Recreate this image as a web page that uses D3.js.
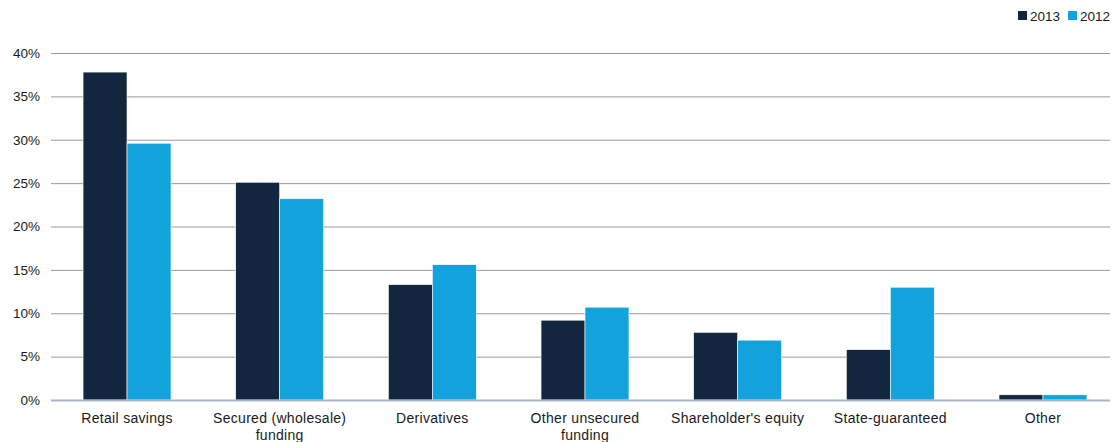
<!DOCTYPE html>
<html>
<head>
<meta charset="utf-8">
<script src="https://cdn.jsdelivr.net/npm/d3@7"></script>
<style>
  body { margin: 0; background: #fff; }
  svg text { font-family: "Liberation Sans", Arial, sans-serif; fill: #1a1a1a; }
</style>
</head>
<body>
<div id="chart"></div>
<script>
// funding mix, share of total
const categories = ['Retail savings', 'Secured (wholesale) funding', 'Derivatives',
  'Other unsecured funding', "Shareholder's equity", 'State-guaranteed', 'Other'];
const labelLines = [['Retail savings'], ['Secured (wholesale)', 'funding'], ['Derivatives'],
  ['Other unsecured', 'funding'], ["Shareholder's equity"], ['State-guaranteed'], ['Other']];
const series = ['2013', '2012'];
const values2013 = [37.8, 25.1, 13.3, 9.2, 7.8, 5.8, 0.6];
const values2012 = [29.6, 23.2, 15.6, 10.7, 6.9, 13.0, 0.6];
const yTicks = [0, 5, 10, 15, 20, 25, 30, 35, 40];
const colors = ['#12263f', '#13a3dc'];

const width = 1112, height = 442;
const margin = {top: 53, right: 2, bottom: 42, left: 51};
const gridRight = width - margin.right;

const svg = d3.select('#chart').append('svg')
  .attr('width', width)
  .attr('height', height);

// the category band runs a little past the right edge, like the original
const x = d3.scaleBand()
  .domain(categories)
  .range([margin.left, 1119])
  .paddingInner(0.424)
  .paddingOuter(0.21);

const xs = d3.scaleBand().domain(series).range([0, x.bandwidth()]);

const y = d3.scaleLinear()
  .domain([0, 40])
  .range([height - margin.bottom, margin.top]);

// gridlines + tick labels
const yAxis = svg.append('g')
  .attr('transform', `translate(${margin.left},0)`)
  .call(d3.axisLeft(y).tickValues(yTicks).tickSize(-(gridRight - margin.left))
    .tickFormat(d => d + '%').tickPadding(11));
yAxis.select('.domain').remove();
yAxis.selectAll('.tick line').attr('stroke', '#9a9a9a').attr('stroke-width', 1);
yAxis.selectAll('.tick text').attr('font-size', 13.5).attr('fill', '#1a1a1a');

const rows = categories.map((c, i) => ({cat: c, vals: [values2013[i], values2012[i]]}));

const groups = svg.append('g').selectAll('g')
  .data(rows)
  .join('g')
  .attr('transform', d => `translate(${x(d.cat)},0)`);

groups.selectAll('rect')
  .data(d => d.vals.map((v, j) => ({s: series[j], v: v, j: j})))
  .join('rect')
  .attr('x', d => xs(d.s))
  .attr('y', d => y(d.v))
  .attr('width', xs.bandwidth())
  .attr('height', d => y(0) - y(d.v))
  .attr('fill', d => colors[d.j])
  .attr('stroke', '#ffffff')
  .attr('stroke-width', 0.6);

// baseline
svg.append('line')
  .attr('x1', margin.left).attr('x2', gridRight)
  .attr('y1', y(0) + 0.5).attr('y2', y(0) + 0.5)
  .attr('stroke', '#a6b4cf').attr('stroke-width', 2);

// category labels
const lab = svg.append('g').selectAll('text')
  .data(categories)
  .join('text')
  .attr('x', d => x(d) + x.bandwidth() / 2)
  .attr('y', y(0) + 23)
  .attr('text-anchor', 'middle')
  .attr('font-size', 14)
  .attr('letter-spacing', 0.3);
lab.selectAll('tspan')
  .data((d, i) => labelLines[i])
  .join('tspan')
  .attr('x', function() { return this.parentNode.getAttribute('x'); })
  .attr('dy', (d, i) => i === 0 ? 0 : 17)
  .text(d => d);

// legend
const legend = svg.append('g').attr('transform', 'translate(1018,11)');
const li = legend.selectAll('g')
  .data(series)
  .join('g')
  .attr('transform', (d, i) => `translate(${i * 50},0)`);
li.append('rect').attr('width', 9).attr('height', 9).attr('fill', (d, i) => colors[i]);
li.append('text').attr('x', 12).attr('y', 9.5).attr('font-size', 13.5).text(d => d);
</script>
</body>
</html>
